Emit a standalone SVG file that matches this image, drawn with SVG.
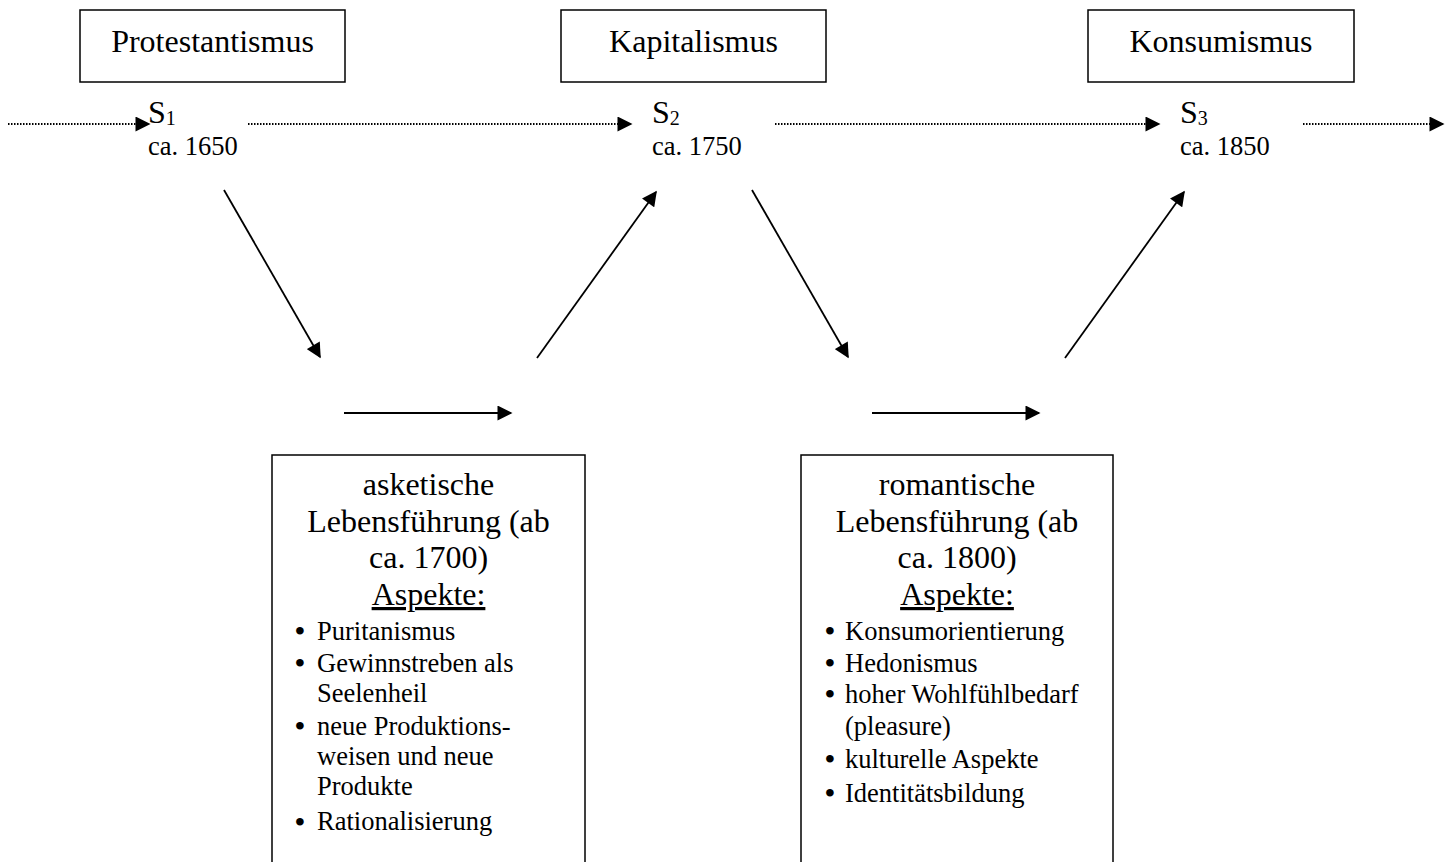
<svg xmlns="http://www.w3.org/2000/svg" width="1445" height="862" viewBox="0 0 1445 862">
<style>
.box{fill:#fff;stroke:#000;stroke-width:1.5}
.t{font-family:"Liberation Serif","Times New Roman",serif;fill:#000}
.big{font-size:32px}
.mid{font-size:26.5px}
.sub{font-size:20px}
.c{text-anchor:middle}
.b{font-size:28px;font-weight:bold;text-anchor:middle}
.ln{stroke:#000;stroke-width:1.8;fill:none}
.dot{stroke:#000;stroke-width:1.8;fill:none;stroke-dasharray:1.5 1.5}
</style>
<defs>
<marker id="ah" viewBox="0 0 10 10" refX="9" refY="5" markerWidth="16" markerHeight="15" markerUnits="userSpaceOnUse" orient="auto">
<path d="M0,0 L10,5 L0,10 z" fill="#000"/>
</marker>
</defs>
<rect width="1445" height="862" fill="#fff"/>
<g id="protestantismus">
<rect class="box" x="80" y="10" width="265" height="72"/>
<text class="t big c" x="212.5" y="52">Protestantismus</text>
</g>
<g id="kapitalismus">
<rect class="box" x="561" y="10" width="265" height="72"/>
<text class="t big c" x="693.5" y="52">Kapitalismus</text>
</g>
<g id="konsumismus">
<rect class="box" x="1088" y="10" width="266" height="72"/>
<text class="t big c" x="1221" y="52">Konsumismus</text>
</g>
<g id="s1">
<text class="t big" x="148" y="123">S<tspan class="sub" dy="2">1</tspan></text>
<text class="t mid" x="148" y="155">ca. 1650</text>
</g>
<g id="s2">
<text class="t big" x="652" y="123">S<tspan class="sub" dy="2">2</tspan></text>
<text class="t mid" x="652" y="155">ca. 1750</text>
</g>
<g id="s3">
<text class="t big" x="1180" y="123">S<tspan class="sub" dy="2">3</tspan></text>
<text class="t mid" x="1180" y="155">ca. 1850</text>
</g>
<g id="asketisch">
<rect class="box" x="272" y="455" width="313" height="420"/>
<text class="t big c" x="428.5" y="495">asketische</text>
<text class="t big c" x="428.5" y="532">Lebensführung (ab</text>
<text class="t big c" x="428.5" y="568">ca. 1700)</text>
<text class="t big c" x="428.5" y="605" text-decoration="underline">Aspekte:</text>
<g class="t mid">
<text class="b" x="300" y="640">•</text><text x="317" y="640">Puritanismus</text>
<text class="b" x="300" y="672">•</text><text x="317" y="672">Gewinnstreben als</text>
<text x="317" y="702">Seelenheil</text>
<text class="b" x="300" y="735">•</text><text x="317" y="735">neue Produktions-</text>
<text x="317" y="765">weisen und neue</text>
<text x="317" y="795">Produkte</text>
<text class="b" x="300" y="831" font-size="31">•</text><text x="317" y="830">Rationalisierung</text>
</g>
</g>
<g id="romantisch">
<rect class="box" x="801" y="455" width="312" height="420"/>
<text class="t big c" x="957" y="495">romantische</text>
<text class="t big c" x="957" y="532">Lebensführung (ab</text>
<text class="t big c" x="957" y="568">ca. 1800)</text>
<text class="t big c" x="957" y="605" text-decoration="underline">Aspekte:</text>
<g class="t mid">
<text class="b" x="830" y="640">•</text><text x="845" y="640">Konsumorientierung</text>
<text class="b" x="830" y="672">•</text><text x="845" y="672">Hedonismus</text>
<text class="b" x="830" y="703">•</text><text x="845" y="703">hoher Wohlfühlbedarf</text>
<text x="845" y="735">(pleasure)</text>
<text class="b" x="830" y="768">•</text><text x="845" y="768">kulturelle Aspekte</text>
<text class="b" x="830" y="802">•</text><text x="845" y="802">Identitätsbildung</text>
</g>
</g>
<g id="connectors">
<line class="dot" x1="8" y1="124" x2="149" y2="124" marker-end="url(#ah)"/>
<line class="dot" x1="248" y1="124" x2="631" y2="124" marker-end="url(#ah)"/>
<line class="dot" x1="775" y1="124" x2="1159" y2="124" marker-end="url(#ah)"/>
<line class="dot" x1="1303" y1="124" x2="1443" y2="124" marker-end="url(#ah)"/>
<line class="ln" x1="224" y1="190" x2="320" y2="357" marker-end="url(#ah)"/>
<line class="ln" x1="344" y1="413" x2="511" y2="413" marker-end="url(#ah)"/>
<line class="ln" x1="537" y1="358" x2="656" y2="192" marker-end="url(#ah)"/>
<line class="ln" x1="752" y1="190" x2="848" y2="357" marker-end="url(#ah)"/>
<line class="ln" x1="872" y1="413" x2="1039" y2="413" marker-end="url(#ah)"/>
<line class="ln" x1="1065" y1="358" x2="1184" y2="192" marker-end="url(#ah)"/>
</g>
</svg>
